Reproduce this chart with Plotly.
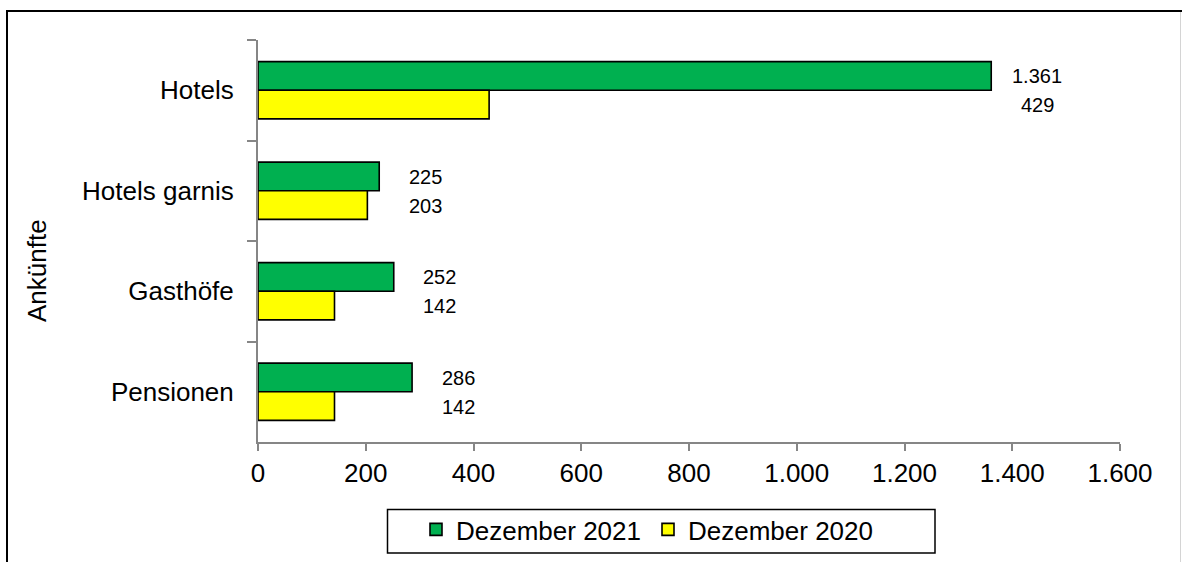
import plotly.graph_objects as go

categories = ["Hotels", "Hotels garnis", "Gasthöfe", "Pensionen"]
dez_2021 = [1361, 225, 252, 286]
dez_2020 = [429, 203, 142, 142]
series_names = ["Dezember 2021", "Dezember 2020"]
x_ticks = [0, 200, 400, 600, 800, 1000, 1200, 1400, 1600]
axis_title = "Ankünfte"

W, H = 1182, 562
ML, MR, MT, MB = 258, 62, 40, 120
PW, PH = W - ML - MR, H - MT - MB


def px_x(p):
    return (p - ML) / PW


def px_y(p):
    return (H - MB - p) / PH


def fmt(v):
    return f"{v:,}".replace(",", ".")


FONT = "Liberation Sans, Arial, sans-serif"
AXIS_COLOR = "#868686"

fig = go.Figure()
fig.add_trace(go.Bar(
    y=categories, x=dez_2021, name=series_names[0], orientation="h",
    marker=dict(color="#00B050", line=dict(color="black", width=1.6)),
))
fig.add_trace(go.Bar(
    y=categories, x=dez_2020, name=series_names[1], orientation="h",
    marker=dict(color="#FFFF00", line=dict(color="black", width=1.6)),
))

annotations = []
for cat, a, b in zip(categories, dez_2021, dez_2020):
    xm = max(a, b)
    annotations.append(dict(x=xm, y=cat, xref="x", yref="y", text=fmt(a),
                            showarrow=False, xshift=46, yshift=14,
                            font=dict(size=20, color="black", family=FONT)))
    annotations.append(dict(x=xm, y=cat, xref="x", yref="y", text=fmt(b),
                            showarrow=False, xshift=46, yshift=-15,
                            font=dict(size=20, color="black", family=FONT)))

annotations.append(dict(x=px_x(37), y=px_y(271), xref="paper", yref="paper",
                        xanchor="center", yanchor="middle",
                        text=axis_title, textangle=-90, showarrow=False,
                        font=dict(size=26, color="black", family=FONT)))

shapes = [
    dict(type="rect", xref="paper", yref="paper",
         x0=px_x(7), x1=px_x(1195), y0=px_y(590), y1=px_y(11),
         line=dict(color="black", width=2), layer="below"),
    dict(type="line", xref="paper", yref="paper",
         x0=px_x(1180.5), x1=px_x(1180.5), y0=px_y(590), y1=px_y(12),
         line=dict(color="#d4d4d4", width=1)),
    # legend frame
    dict(type="rect", xref="paper", yref="paper",
         x0=px_x(387.5), x1=px_x(935), y0=px_y(553), y1=px_y(509.5),
         line=dict(color="black", width=1.5)),
]

fig.update_layout(
    width=W, height=H,
    margin=dict(l=ML, r=MR, t=MT, b=MB, autoexpand=False),
    paper_bgcolor="white", plot_bgcolor="white",
    barmode="group", bargap=0.43, bargroupgap=0,
    separators=",.",
    font=dict(family=FONT, size=26, color="black"),
    showlegend=True,
    legend=dict(orientation="h", x=px_x(416), xanchor="left",
                y=px_y(506), yanchor="top",
                bgcolor="rgba(0,0,0,0)", borderwidth=0,
                font=dict(size=26, family=FONT, color="black"),
                traceorder="normal", itemwidth=30, entrywidth=187),
    annotations=annotations,
    shapes=shapes,
)

fig.update_xaxes(range=[0, 1600], tickvals=x_ticks, tickformat=",d",
                 showgrid=False, zeroline=False,
                 showline=True, linecolor=AXIS_COLOR, linewidth=2,
                 ticks="outside", ticklen=7, tickcolor=AXIS_COLOR, tickwidth=2,
                 tickfont=dict(size=26, family=FONT, color="black"))
fig.update_yaxes(autorange="reversed", showgrid=False, zeroline=False,
                 showline=True, linecolor=AXIS_COLOR, linewidth=2,
                 ticks="outside", ticklen=9, tickcolor=AXIS_COLOR, tickwidth=2,
                 tickson="boundaries", ticklabelstandoff=17,
                 tickfont=dict(size=26, family=FONT, color="black"))

fig.write_html("out.html", config={"displayModeBar": False},
               post_script="document.body.style.margin='0';")
